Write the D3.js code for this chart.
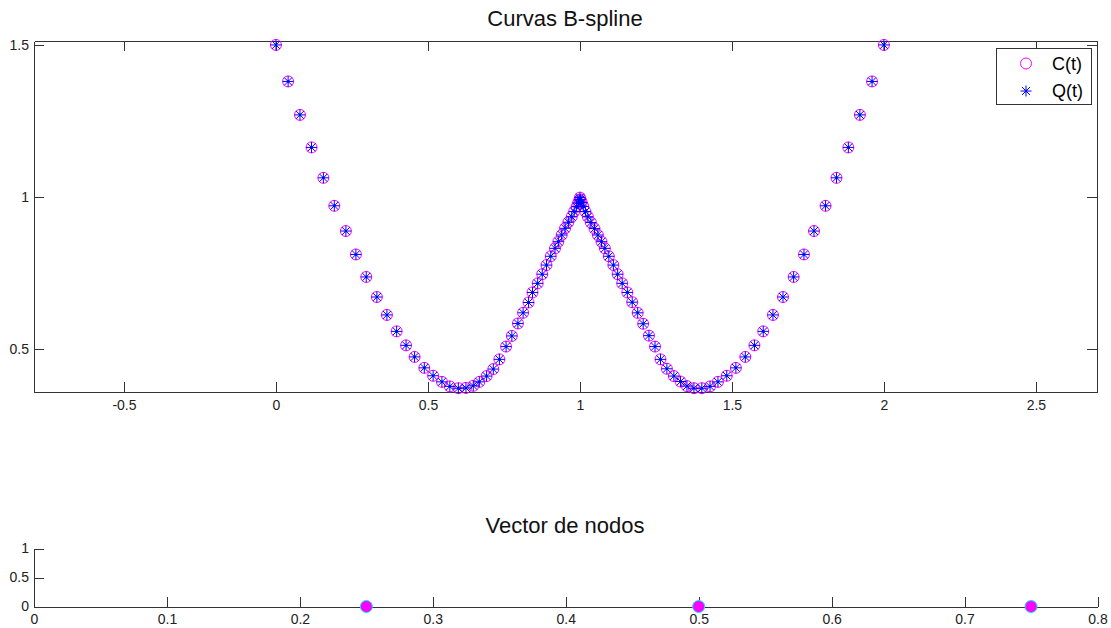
<!DOCTYPE html>
<html>
<head>
<meta charset="utf-8">
<script src="https://cdn.jsdelivr.net/npm/d3@7"></script>
<style>
  html, body { margin: 0; padding: 0; background: #fff; }
  svg { display: block; font-family: "Liberation Sans", Arial, sans-serif; }
</style>
</head>
<body>
<svg id="chart" width="1111" height="628"></svg>
<script>
// ---------- data ----------
const curveX = [
  0.000, 0.040, 0.079, 0.117, 0.156, 0.192, 0.230, 0.263, 0.297, 0.332,
  0.365, 0.397, 0.428, 0.456, 0.488, 0.517, 0.546, 0.572, 0.600, 0.625,
  0.649, 0.669, 0.693, 0.715, 0.735, 0.757, 0.776, 0.796, 0.813, 0.831,
  0.844, 0.861, 0.876, 0.890, 0.904, 0.918, 0.929, 0.940, 0.951, 0.962,
  0.973, 0.981, 0.989, 0.994, 0.998, 1.000,
  1.002, 1.006, 1.011, 1.018, 1.026, 1.036, 1.048, 1.059, 1.071, 1.082,
  1.095, 1.110, 1.124, 1.139, 1.156, 1.172, 1.190, 1.208, 1.227, 1.247,
  1.265, 1.286, 1.309, 1.331, 1.352, 1.375, 1.401, 1.428, 1.454, 1.483,
  1.513, 1.544, 1.574, 1.603, 1.635, 1.668, 1.703, 1.737, 1.770, 1.808,
  1.844, 1.883, 1.921, 1.961, 2.000
];
const curveY = [
  1.500, 1.380, 1.270, 1.163, 1.063, 0.971, 0.888, 0.811, 0.737, 0.671,
  0.612, 0.558, 0.512, 0.474, 0.438, 0.412, 0.392, 0.377, 0.371, 0.372,
  0.379, 0.392, 0.411, 0.434, 0.466, 0.508, 0.543, 0.584, 0.619, 0.653,
  0.686, 0.716, 0.746, 0.776, 0.805, 0.831, 0.853, 0.875, 0.897, 0.917,
  0.935, 0.952, 0.968, 0.980, 0.990, 0.998,
  0.992, 0.982, 0.969, 0.952, 0.935, 0.916, 0.896, 0.875, 0.853, 0.831,
  0.805, 0.776, 0.746, 0.716, 0.686, 0.654, 0.619, 0.583, 0.544, 0.508,
  0.466, 0.435, 0.411, 0.393, 0.378, 0.371, 0.371, 0.377, 0.392, 0.412,
  0.438, 0.474, 0.512, 0.558, 0.612, 0.671, 0.737, 0.811, 0.888, 0.971,
  1.063, 1.163, 1.270, 1.380, 1.500
];
const knots = [0.25, 0.5, 0.75];

const topXTicks = [-0.5, 0, 0.5, 1, 1.5, 2, 2.5];
const topYTicks = [0.5, 1, 1.5];
const botXTicks = [0, 0.1, 0.2, 0.3, 0.4, 0.5, 0.6, 0.7, 0.8];
const botYTicks = [0, 0.5, 1];
const legendLabels = ["C(t)", "Q(t)"];
const titles = ["Curvas B-spline", "Vector de nodos"];

// ---------- layout ----------
const svg = d3.select("#chart");
const axisColor = "#333";
const TICK = 10;
const fmt = d => String(d);   // plain hyphen minus, like the reference

const boxT = { left: 34, right: 1097, top: 41, bottom: 392 };
const boxB = { left: 34, right: 1097.5, top: 548.5, bottom: 606.5 };

const xT = d3.scaleLinear().domain([-0.796, 2.701]).range([boxT.left, boxT.right]);
const yT = d3.scaleLinear().domain([0.3586, 1.513]).range([boxT.bottom, boxT.top]);
const xB = d3.scaleLinear().domain([0, 0.8]).range([boxB.left, boxB.right]);
const yB = d3.scaleLinear().domain([0, 1]).range([boxB.bottom, boxB.top]);

function styleAxis(g) {
  g.selectAll("path, line").attr("stroke", axisColor).attr("shape-rendering", "crispEdges");
  g.selectAll("text").attr("fill", "#222").attr("font-size", 14)
    .attr("font-family", '"Liberation Sans", Arial, sans-serif');
}

// ---------- top plot ----------
const gTop = svg.append("g");
gTop.append("g").attr("transform", `translate(0,${boxT.bottom})`)
  .call(d3.axisBottom(xT).tickValues(topXTicks).tickSizeInner(-TICK).tickSizeOuter(0)
    .tickPadding(8).tickFormat(fmt))
  .call(styleAxis);
gTop.append("g").attr("transform", `translate(0,${boxT.top})`)
  .call(d3.axisTop(xT).tickValues(topXTicks).tickSizeInner(-TICK).tickSizeOuter(0).tickFormat(""))
  .call(styleAxis);
gTop.append("g").attr("transform", `translate(${boxT.left},0)`)
  .call(d3.axisLeft(yT).tickValues(topYTicks).tickSizeInner(-TICK).tickSizeOuter(0)
    .tickPadding(5).tickFormat(fmt))
  .call(styleAxis);
gTop.append("g").attr("transform", `translate(${boxT.right},0)`)
  .call(d3.axisRight(yT).tickValues(topYTicks).tickSizeInner(-TICK).tickSizeOuter(0).tickFormat(""))
  .call(styleAxis);

svg.append("text").attr("x", 565).attr("y", 26)
  .attr("text-anchor", "middle").attr("font-size", 22).attr("fill", "#111")
  .text(titles[0]);

const pts = curveX.map((x, i) => ({ x, y: curveY[i] }));

gTop.append("g").selectAll("circle").data(pts).join("circle")
  .attr("cx", d => xT(d.x)).attr("cy", d => yT(d.y)).attr("r", 5.5)
  .attr("fill", "none").attr("stroke", "#ff00ff").attr("stroke-width", 1);

function asterisk(sel, r) {
  const d = r * 0.72;
  sel.append("path")
    .attr("d", `M${-r},0H${r}M0,${-r}V${r}M${-d},${-d}L${d},${d}M${-d},${d}L${d},${-d}`)
    .attr("stroke", "#0000ff").attr("stroke-width", 1).attr("fill", "none");
  sel.append("circle").attr("r", 1.3).attr("fill", "#0000ff");
}
gTop.append("g").selectAll("g").data(pts).join("g")
  .attr("transform", d => `translate(${xT(d.x)},${yT(d.y)})`)
  .each(function () { asterisk(d3.select(this), 5.5); });

// legend
const lg = svg.append("g");
lg.append("rect").attr("x", 996).attr("y", 48.5).attr("width", 95.5).attr("height", 55.5)
  .attr("fill", "#fff").attr("stroke", axisColor).attr("shape-rendering", "crispEdges");
lg.append("circle").attr("cx", 1026).attr("cy", 63.5).attr("r", 5.5)
  .attr("fill", "none").attr("stroke", "#ff00ff");
asterisk(lg.append("g").attr("transform", "translate(1026,91)"), 5.5);
legendLabels.forEach((t, i) => {
  lg.append("text").attr("x", 1052).attr("y", 63.5 + i * 27.5).attr("dy", "0.35em")
    .attr("font-size", 18).attr("fill", "#000").text(t);
});

// ---------- bottom plot ----------
const gBot = svg.append("g");
gBot.append("g").attr("transform", `translate(0,${boxB.bottom})`)
  .call(d3.axisBottom(xB).tickValues(botXTicks).tickSizeInner(-TICK).tickSizeOuter(0)
    .tickPadding(8).tickFormat(fmt))
  .call(styleAxis);
gBot.append("g").attr("transform", `translate(${boxB.left},0)`)
  .call(d3.axisLeft(yB).tickValues(botYTicks).tickSizeInner(-TICK).tickSizeOuter(0)
    .tickPadding(5).tickFormat(fmt))
  .call(styleAxis);

svg.append("text").attr("x", 565).attr("y", 533)
  .attr("text-anchor", "middle").attr("font-size", 22).attr("fill", "#111")
  .text(titles[1]);

gBot.append("g").selectAll("circle").data(knots).join("circle")
  .attr("cx", d => xB(d)).attr("cy", yB(0)).attr("r", 6)
  .attr("fill", "#ff00ff").attr("stroke", "#00e5ff").attr("stroke-width", 1);
</script>
</body>
</html>
